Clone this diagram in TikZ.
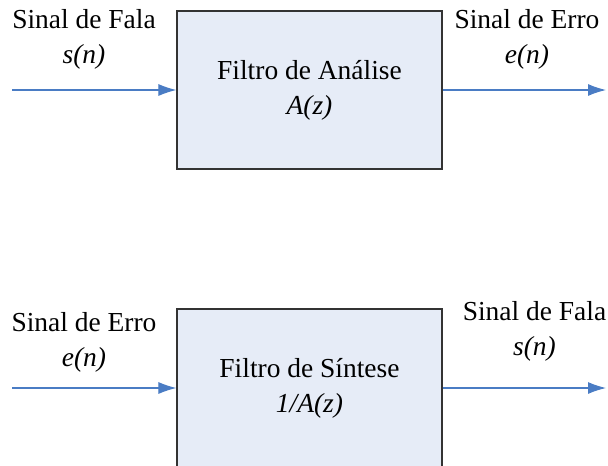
\documentclass[tikz,border=0pt]{standalone}
\usepackage{fontspec}
\setmainfont{Liberation Serif}
\usetikzlibrary{arrows.meta}
\definecolor{boxfill}{HTML}{E6ECF7}
\definecolor{sigblue}{HTML}{4A7CC4}

\begin{document}
\begin{tikzpicture}[x=0.75pt,y=-0.75pt,
  filterbox/.style={draw=black!80, fill=boxfill, line width=0.9pt,
    minimum width=198.75pt, minimum height=118.5pt, align=center,
    font=\fontsize{20.6pt}{26.25pt}\selectfont},
  sig/.style={draw=sigblue, line width=0.8pt, -{Latex[length=13.5pt,width=9pt]}},
  lbl/.style={align=center, inner sep=0pt,
    font=\fontsize{20.6pt}{26.25pt}\selectfont}]

\useasboundingbox (0,0) rectangle (608,465);

% analysis filter
\node[filterbox] (ana) at (309.5,90) {Filtro de Análise\\\textit{A(z)}};
\node[lbl] (fala1) at (84,39.5) {Sinal de Fala\\\textit{s(n)}};
\node[lbl] (erro1) at (527,39.5) {Sinal de Erro\\\textit{e(n)}};

\coordinate (in1) at (12,90);
\coordinate (out1) at (606,90);
\draw[sig] (in1) -- (ana.west);
\draw[sig] (ana.east) -- (out1);

% synthesis filter
\node[filterbox] (sin) at (309.5,388) {Filtro de Síntese\\\textit{1/A(z)}};
\node[lbl] (erro2) at (84,342.5) {Sinal de Erro\\\textit{e(n)}};
\node[lbl] (fala2) at (534.5,331) {Sinal de Fala\\\textit{s(n)}};

\coordinate (in2) at (12,388);
\coordinate (out2) at (606,388);
\draw[sig] (in2) -- (sin.west);
\draw[sig] (sin.east) -- (out2);

\end{tikzpicture}
\end{document}
